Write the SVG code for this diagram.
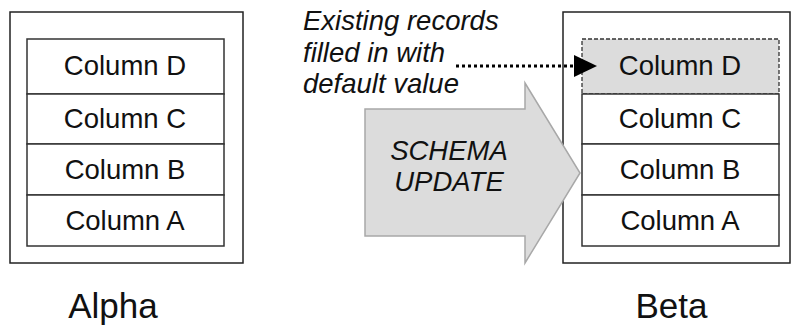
<svg xmlns="http://www.w3.org/2000/svg" width="791" height="326" viewBox="0 0 791 326">
<style>
.box{fill:#fff;stroke:#222;stroke-width:1.5}
.row{fill:#fff;stroke:#333;stroke-width:1.5}
.new{fill:#dcdcdc;stroke:#333;stroke-width:1.3;stroke-dasharray:4 2}
.t{font-family:"Liberation Sans",Arial,sans-serif;font-size:27.5px;fill:#111;text-anchor:middle}
.lbl{font-family:"Liberation Sans",Arial,sans-serif;font-size:35px;fill:#111;text-anchor:middle}
.it{font-family:"Liberation Sans",Arial,sans-serif;font-size:27.5px;font-style:italic;fill:#111}
</style>
<g id="alpha">
<rect class="box" x="10" y="12" width="233" height="251"/>
<rect class="row" x="27" y="39" width="197" height="55"/>
<rect class="row" x="27" y="94" width="197" height="50"/>
<rect class="row" x="27" y="144" width="197" height="51"/>
<rect class="row" x="27" y="195" width="197" height="51"/>
<text class="t" x="125" y="75">Column D</text>
<text class="t" x="125" y="128">Column C</text>
<text class="t" x="125" y="179">Column B</text>
<text class="t" x="125" y="230">Column A</text>
<text class="lbl" x="113" y="318">Alpha</text>
</g>
<g id="beta">
<rect class="box" x="563" y="12" width="227" height="251"/>
<rect class="new" x="582" y="39" width="197" height="55"/>
<rect class="row" x="582" y="94" width="197" height="50"/>
<rect class="row" x="582" y="144" width="197" height="51"/>
<rect class="row" x="582" y="195" width="197" height="51"/>
<text class="t" x="680" y="75">Column D</text>
<text class="t" x="680" y="128">Column C</text>
<text class="t" x="680" y="179">Column B</text>
<text class="t" x="680" y="230">Column A</text>
<text class="lbl" x="671.5" y="318">Beta</text>
</g>
<g id="schema-update">
<path d="M365,109 L525,109 L525,83 L580,173 L525,263 L525,236 L365,236 Z" fill="#dcdcdc" stroke="#a8a8a8" stroke-width="1.5"/>
<text class="it" text-anchor="middle" x="449" y="160">SCHEMA</text>
<text class="it" text-anchor="middle" x="449" y="191">UPDATE</text>
</g>
<g id="note">
<text class="it" x="303" y="30">Existing records</text>
<text class="it" x="303" y="62">filled in with</text>
<text class="it" x="303" y="93">default value</text>
</g>
<g id="connectors">
<line x1="456" y1="66" x2="575" y2="66" stroke="#000" stroke-width="3" stroke-dasharray="3 3"/>
<path d="M574,55 L597,66 L574,77 Z" fill="#000"/>
</g>
</svg>
